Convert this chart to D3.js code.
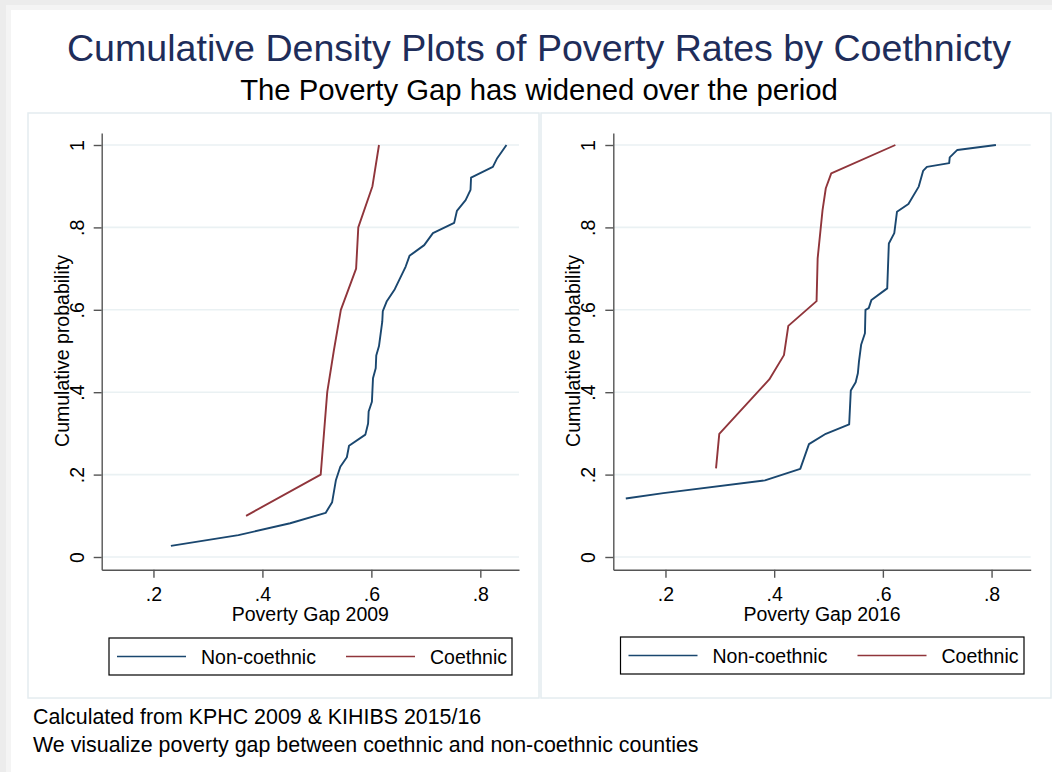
<!DOCTYPE html>
<html>
<head>
<meta charset="utf-8">
<script src="https://cdn.jsdelivr.net/npm/d3@7"></script>
<style>
  html, body { margin: 0; padding: 0; background: #ececec; }
  svg { display: block; font-family: "Liberation Sans", Arial, sans-serif; }
</style>
</head>
<body>
<div id="contents"></div>
<script>
// values
const nonCoX2009 = [0.232, 0.356, 0.451, 0.516, 0.528, 0.535, 0.543, 0.555, 0.559, 0.589, 0.594, 0.595, 0.601,
    0.603, 0.608, 0.609, 0.614, 0.620, 0.621, 0.628, 0.643, 0.663, 0.670, 0.697, 0.713, 0.752, 0.757, 0.773,
    0.782, 0.783, 0.823, 0.831, 0.848];
const nonCoY2009 = [0.027, 0.053, 0.082, 0.107, 0.133, 0.187, 0.219, 0.242, 0.270, 0.297, 0.324, 0.353, 0.377,
    0.434, 0.458, 0.489, 0.512, 0.571, 0.597, 0.620, 0.650, 0.705, 0.731, 0.757, 0.786, 0.811, 0.840, 0.866,
    0.891, 0.921, 0.947, 0.968, 1.0];
const coX2009 = [0.370, 0.507, 0.513, 0.519, 0.531, 0.544, 0.572, 0.576, 0.602, 0.614];
const coY2009 = [0.1, 0.2, 0.3, 0.4, 0.5, 0.6, 0.7, 0.8, 0.9, 1.0];

const nonCoX2016 = [0.127, 0.196, 0.383, 0.448, 0.464, 0.495, 0.538, 0.541, 0.550, 0.554, 0.556, 0.560, 0.567,
    0.568, 0.574, 0.579, 0.608, 0.611, 0.621, 0.626, 0.647, 0.666, 0.674, 0.681, 0.722, 0.723, 0.737, 0.808];
const nonCoY2016 = [0.142, 0.155, 0.186, 0.214, 0.274, 0.299, 0.322, 0.404, 0.424, 0.446, 0.474, 0.515, 0.543,
    0.600, 0.604, 0.624, 0.652, 0.761, 0.786, 0.838, 0.857, 0.899, 0.937, 0.947, 0.956, 0.970, 0.988, 1.0];
const coX2016 = [0.293, 0.299, 0.391, 0.418, 0.426, 0.478, 0.480, 0.489, 0.495, 0.505, 0.623];
const coY2016 = [0.215, 0.299, 0.431, 0.490, 0.561, 0.621, 0.725, 0.842, 0.895, 0.931, 1.0];

const xTicks = [0.2, 0.4, 0.6, 0.8];
const yTicks = [0, 0.2, 0.4, 0.6, 0.8, 1];
const seriesNames = ["Non-coethnic", "Coethnic"];
const panelTitles = ["Poverty Gap 2009", "Poverty Gap 2016"];

const W = 1052, H = 772;
const blue = "#1a476f", red = "#90353b";

const svg = d3.select("#contents").append("svg")
    .attr("width", W)
    .attr("height", H);

// page with a soft shadow edge at top / left
svg.append("rect").attr("x", 0).attr("y", 0).attr("width", W).attr("height", H).attr("fill", "#ececec");
svg.append("rect").attr("x", 6).attr("y", 5).attr("width", W).attr("height", H).attr("fill", "#f4f4f4");
svg.append("rect").attr("x", 11).attr("y", 10).attr("width", W).attr("height", H).attr("fill", "#ffffff");

svg.append("text")
    .attr("x", 539).attr("y", 61)
    .attr("text-anchor", "middle")
    .style("font-size", "37.6px")
    .attr("fill", "#1e2d5a")
    .text("Cumulative Density Plots of Poverty Rates by Coethnicty");

svg.append("text")
    .attr("x", 539).attr("y", 100)
    .attr("text-anchor", "middle")
    .style("font-size", "29.3px")
    .attr("fill", "#000")
    .text("The Poverty Gap has widened over the period");

svg.append("text").attr("x", 33).attr("y", 724)
    .style("font-size", "21.4px").attr("fill", "#000")
    .text("Calculated from KPHC 2009 & KIHIBS 2015/16");
svg.append("text").attr("x", 33).attr("y", 752)
    .style("font-size", "21.4px").attr("fill", "#000")
    .text("We visualize poverty gap between coethnic and non-coethnic counties");

function zipPoints(xs, ys) {
    return xs.map((v, i) => [v, ys[i]]);
}

function drawPanel(opts) {
    const g = svg.append("g");

    // panel frame
    g.append("rect")
        .attr("x", opts.box[0]).attr("y", opts.box[1])
        .attr("width", opts.box[2]).attr("height", opts.box[3])
        .attr("fill", "#fff")
        .attr("stroke", "#e4ecef")
        .attr("stroke-width", 1.5);

    const x = d3.scaleLinear().domain(opts.xDomain).range([opts.left, opts.right]);
    const y = d3.scaleLinear().domain([0, 1]).range([557, 145]);
    const yLo = -0.031, yHi = 1.029;

    // gridlines
    g.append("g").selectAll("line")
        .data(yTicks)
        .join("line")
        .attr("x1", x.range()[0]).attr("x2", x.range()[1])
        .attr("y1", d => y(d)).attr("y2", d => y(d))
        .attr("stroke", "#eaf1f3")
        .attr("stroke-width", 1.6);

    const line = d3.line().x(d => x(d[0])).y(d => y(d[1]));

    g.append("path")
        .datum(zipPoints(opts.nonX, opts.nonY))
        .attr("d", line)
        .attr("fill", "none")
        .attr("stroke", blue)
        .attr("stroke-width", 1.9)
        .attr("stroke-linejoin", "round");

    g.append("path")
        .datum(zipPoints(opts.coX, opts.coY))
        .attr("d", line)
        .attr("fill", "none")
        .attr("stroke", red)
        .attr("stroke-width", 1.9)
        .attr("stroke-linejoin", "round");

    // x axis
    const xAxis = d3.axisBottom(x)
        .tickValues(xTicks)
        .tickSize(8)
        .tickPadding(9)
        .tickSizeOuter(0)
        .tickFormat(d => d3.format(".1f")(d).replace(/^0/, ""));
    const gx = g.append("g")
        .attr("transform", "translate(0," + y(yLo) + ")")
        .call(xAxis);
    gx.select(".domain").attr("stroke", "#555").attr("stroke-width", 1.4);
    gx.selectAll(".tick line").attr("stroke", "#555").attr("stroke-width", 1.4);
    gx.selectAll(".tick text").style("font-size", "19.5px").attr("fill", "#000")
        .style("font-family", "'Liberation Sans', Arial, sans-serif");

    // y axis
    const yAxis = d3.axisLeft(d3.scaleLinear().domain([yLo, yHi]).range([y(yLo), y(yHi)]))
        .tickValues(yTicks)
        .tickSize(8)
        .tickSizeOuter(0)
        .tickFormat(d => d === 0 ? "0" : d === 1 ? "1" : d3.format(".1f")(d).replace(/^0/, ""));
    const gy = g.append("g")
        .attr("transform", "translate(" + x.range()[0] + ",0)")
        .call(yAxis);
    gy.select(".domain").attr("stroke", "#555").attr("stroke-width", 1.4);
    gy.selectAll(".tick line").attr("stroke", "#555").attr("stroke-width", 1.4);
    gy.selectAll(".tick text")
        .attr("x", null).attr("dy", null)
        .attr("text-anchor", "middle")
        .attr("transform", "translate(-18,0) rotate(-90)")
        .style("font-size", "19.5px").attr("fill", "#000")
        .style("font-family", "'Liberation Sans', Arial, sans-serif");

    // axis titles
    g.append("text")
        .attr("x", (x.range()[0] + x.range()[1]) / 2).attr("y", 621)
        .attr("text-anchor", "middle")
        .style("font-size", "19.5px")
        .text(opts.title);

    g.append("text")
        .attr("transform", "translate(" + (x.range()[0] - 33) + "," + y(0.5) + ") rotate(-90)")
        .attr("text-anchor", "middle")
        .style("font-size", "19.5px")
        .text("Cumulative probability");

    // legend
    const lg = g.append("g").attr("transform", "translate(" + opts.legend[0] + "," + opts.legend[1] + ")");
    lg.append("rect")
        .attr("width", opts.legend[2]).attr("height", 37)
        .attr("fill", "#fff").attr("stroke", "#000").attr("stroke-width", 1.2);
    const colors = [blue, red];
    const offsets = [8, 237];
    seriesNames.forEach((name, i) => {
        lg.append("line")
            .attr("x1", offsets[i]).attr("x2", offsets[i] + 69)
            .attr("y1", 18.5).attr("y2", 18.5)
            .attr("stroke", colors[i]).attr("stroke-width", 1.5);
        lg.append("text")
            .attr("x", offsets[i] + 84).attr("y", 25.5)
            .style("font-size", "19.5px")
            .text(name);
    });
}

drawPanel({
    box: [28, 113, 511, 585],
    xDomain: [0.105, 0.871], left: 101.7, right: 519,
    nonX: nonCoX2009, nonY: nonCoY2009, coX: coX2009, coY: coY2009,
    title: panelTitles[0],
    legend: [109, 638, 403]
});

drawPanel({
    box: [541, 113, 510, 585],
    xDomain: [0.104, 0.872], left: 613.3, right: 1030.7,
    nonX: nonCoX2016, nonY: nonCoY2016, coX: coX2016, coY: coY2016,
    title: panelTitles[1],
    legend: [620.5, 637, 403.5]
});
</script>
</body>
</html>
